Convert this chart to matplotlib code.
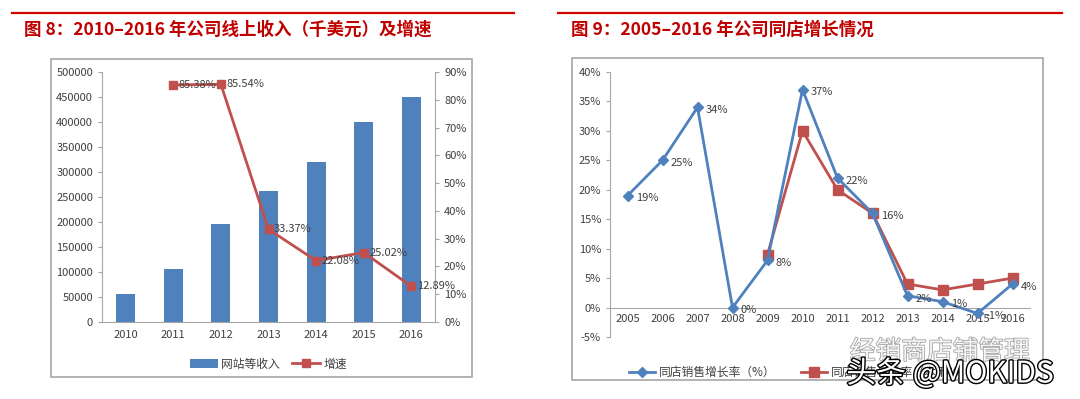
import matplotlib
matplotlib.use("Agg")
import matplotlib.pyplot as plt
import matplotlib.patheffects as pe
from matplotlib.lines import Line2D
from matplotlib.patches import Rectangle

plt.rcParams['font.family'] = ['Noto Sans CJK SC', 'DejaVu Sans']

# chart 8: online revenue (k USD) and growth
years8 = ["2010", "2011", "2012", "2013", "2014", "2015", "2016"]
revenue = [57000, 105700, 196100, 261500, 319300, 399200, 450700]
growth = [None, 85.38, 85.54, 33.37, 22.08, 25.02, 12.89]
growth_labels = ["", "85.38%", "85.54%", "33.37%", "22.08%", "25.02%", "12.89%"]

# chart 9: same-store growth
years9 = ["2005", "2006", "2007", "2008", "2009", "2010", "2011", "2012",
          "2013", "2014", "2015", "2016"]
comp_a = [19, 25, 34, 0, 8, 37, 22, 16, 2, 1, -1, 4]
comp_b = [None, None, None, None, 9, 30, 20, 16, 4, 3, 4, 5]

BLUE = "#4F81BD"
RED = "#C0504D"
TITLE_RED = "#C00000"
TXT = "#404040"
W, H = 1080, 399


def box(x0, y0, x1, y1):
    # pixel coords (top-left origin) -> figure fraction
    return [x0 / W, 1 - y1 / H, (x1 - x0) / W, (y1 - y0) / H]


fig = plt.figure(figsize=(W / 100, H / 100), dpi=100)

# red header rules and titles
fig.add_artist(Line2D([12 / W, 514 / W], [1 - 13 / H] * 2, color="#D00000", lw=1.6))
fig.add_artist(Line2D([558 / W, 1062 / W], [1 - 13 / H] * 2, color="#D00000", lw=1.6))
fig.text(24 / W, 1 - 30 / H, "图 8：2010–2016 年公司线上收入（千美元）及增速",
         color=TITLE_RED, fontsize=12.6, fontweight="bold", va="center")
fig.text(571 / W, 1 - 30 / H, "图 9：2005–2016 年公司同店增长情况",
         color=TITLE_RED, fontsize=12.6, fontweight="bold", va="center")

# chart frames
fig.add_artist(Rectangle((51 / W, 1 - 377 / H), (472 - 51) / W, (377 - 59) / H,
                         transform=fig.transFigure, fill=False, ec="#A6A6A6", lw=1.2))
fig.add_artist(Rectangle((572 / W, 1 - 380 / H), (1043 - 572) / W, (380 - 58) / H,
                         transform=fig.transFigure, fill=False, ec="#A6A6A6", lw=1.2))

# ---------- chart 8 ----------
ax = fig.add_axes(box(102, 72, 435, 322))
x8 = range(len(years8))
bars = ax.bar(x8, revenue, width=0.4, color=BLUE, label="网站等收入", zorder=2)
ax.set_xlim(-0.5, len(years8) - 0.5)
ax.set_ylim(0, 500000)
ax.set_yticks(range(0, 500001, 50000))
ax.set_xticks(list(x8))
ax.set_xticklabels(years8)
for s in ["top", "right"]:
    ax.spines[s].set_visible(False)
for s in ["left", "bottom"]:
    ax.spines[s].set_color("#A6A6A6")
ax.tick_params(axis="both", colors="#A6A6A6", labelcolor=TXT, labelsize=8, length=3)
ax.tick_params(axis="x", length=0, pad=6)

ax2 = ax.twinx()
gx = [i for i, g in enumerate(growth) if g is not None]
gy = [g for g in growth if g is not None]
line8, = ax2.plot(gx, gy, color=RED, lw=2, marker="s", markersize=6, label="增速", zorder=3)
ax2.set_ylim(0, 90)
ax2.set_yticks(range(0, 91, 10))
ax2.set_yticklabels([f"{v}%" for v in range(0, 91, 10)])
for s in ["top", "left", "bottom"]:
    ax2.spines[s].set_visible(False)
ax2.spines["right"].set_color("#A6A6A6")
ax2.tick_params(axis="y", colors="#A6A6A6", labelcolor=TXT, labelsize=8, length=3)
for i, g in enumerate(growth):
    if g is not None:
        ax2.annotate(growth_labels[i], (i, g), xytext=(4, 0), textcoords="offset points",
                     va="center", ha="left", fontsize=8, color=TXT)
ax.legend(handles=[bars, line8], loc="upper center", bbox_to_anchor=(0.5, -0.1),
          ncol=2, frameon=False, fontsize=8.5, handlelength=2.4, columnspacing=1.0,
          handletextpad=0.3, labelcolor=TXT)

# ---------- chart 9 ----------
bx = fig.add_axes(box(610, 72, 1030, 337))
x9 = list(range(len(years9)))
la, = bx.plot(x9, comp_a, color=BLUE, lw=2, marker="D", markersize=5,
              label="同店销售增长率（%）", zorder=3)
bxs = [i for i, v in enumerate(comp_b) if v is not None]
bys = [v for v in comp_b if v is not None]
lb, = bx.plot(bxs, bys, color=RED, lw=2, marker="s", markersize=7,
              label="同店销售增长率（本币%）", zorder=2)
for i, v in enumerate(comp_a):
    bx.annotate(f"{v}%", (i, v), xytext=(6, -2), textcoords="offset points",
                va="center", ha="left", fontsize=8, color=TXT)
bx.set_xlim(-0.5, len(years9) - 0.5)
bx.set_ylim(-5, 40)
bx.set_yticks(range(-5, 41, 5))
bx.set_yticklabels([f"{v}%" for v in range(-5, 41, 5)])
bx.set_xticks(x9)
bx.set_xticklabels(years9)
bx.spines["bottom"].set_position(("data", 0))
for s in ["top", "right"]:
    bx.spines[s].set_visible(False)
for s in ["left", "bottom"]:
    bx.spines[s].set_color("#A6A6A6")
bx.tick_params(axis="both", colors="#A6A6A6", labelcolor=TXT, labelsize=8, length=3)
bx.tick_params(axis="x", length=0, pad=5)
bx.legend(handles=[la, lb], loc="upper left", bbox_to_anchor=(0.02, -0.07),
          ncol=2, frameon=False, fontsize=8.5, handlelength=2.2, columnspacing=2.2,
          handletextpad=0.3, labelcolor=TXT)

# watermark
fig.text(940 / W, 1 - 352 / H, "经销商店铺管理", fontsize=18.5, color="white", ha="center",
         va="center", alpha=0.9,
         path_effects=[pe.withStroke(linewidth=1.2, foreground="#9A9A9A")])
fig.text(950 / W, 1 - 374 / H, "头条 @MOKIDS", fontsize=21.5, color="white", ha="center",
         va="center", path_effects=[pe.withStroke(linewidth=2, foreground="black")])

fig.savefig("out.png", dpi=100)
